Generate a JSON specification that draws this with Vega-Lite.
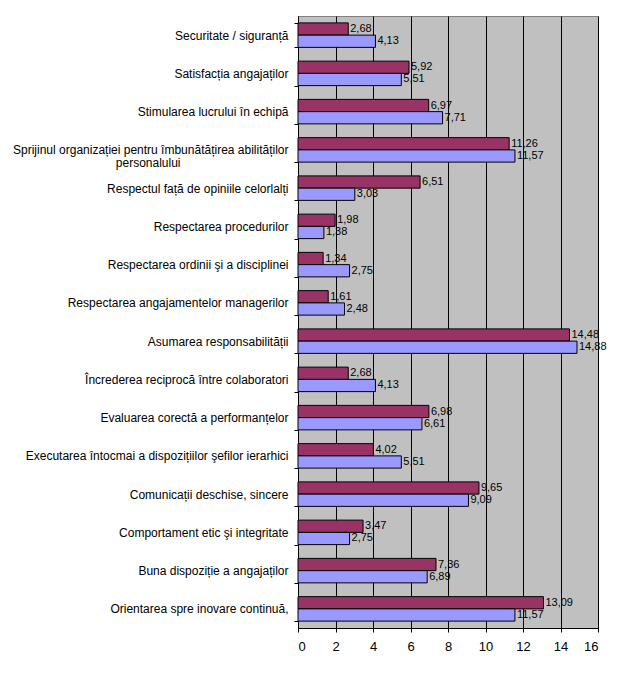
{
  "$schema": "https://vega.github.io/schema/vega-lite/v6.json",
  "width": 300,
  "height": 612,
  "autosize": {"type": "none"},
  "padding": {"left": 298, "top": 16, "right": 26, "bottom": 51},
  "background": "white",
  "config": {
    "locale": {"number": {"decimal": ",", "thousands": ".", "grouping": [3], "currency": ["", ""]}},
    "view": {"fill": "#C0C0C0", "stroke": "#808080", "strokeWidth": 1},
    "font": "Liberation Sans"
  },
  "data": {
    "values": [
      {"categorie": "Securitate / siguranță", "serie": "1", "valoare": 2.68},
      {"categorie": "Securitate / siguranță", "serie": "2", "valoare": 4.13},
      {"categorie": "Satisfacția angajaților", "serie": "1", "valoare": 5.92},
      {"categorie": "Satisfacția angajaților", "serie": "2", "valoare": 5.51},
      {"categorie": "Stimularea lucrului în echipă", "serie": "1", "valoare": 6.97},
      {"categorie": "Stimularea lucrului în echipă", "serie": "2", "valoare": 7.71},
      {"categorie": "Sprijinul organizației pentru îmbunătățirea abilităților personalului", "serie": "1", "valoare": 11.26},
      {"categorie": "Sprijinul organizației pentru îmbunătățirea abilităților personalului", "serie": "2", "valoare": 11.57},
      {"categorie": "Respectul față de opiniile celorlalți", "serie": "1", "valoare": 6.51},
      {"categorie": "Respectul față de opiniile celorlalți", "serie": "2", "valoare": 3.03},
      {"categorie": "Respectarea procedurilor", "serie": "1", "valoare": 1.98},
      {"categorie": "Respectarea procedurilor", "serie": "2", "valoare": 1.38},
      {"categorie": "Respectarea ordinii şi a disciplinei", "serie": "1", "valoare": 1.34},
      {"categorie": "Respectarea ordinii şi a disciplinei", "serie": "2", "valoare": 2.75},
      {"categorie": "Respectarea angajamentelor managerilor", "serie": "1", "valoare": 1.61},
      {"categorie": "Respectarea angajamentelor managerilor", "serie": "2", "valoare": 2.48},
      {"categorie": "Asumarea responsabilității", "serie": "1", "valoare": 14.48},
      {"categorie": "Asumarea responsabilității", "serie": "2", "valoare": 14.88},
      {"categorie": "Încrederea reciprocă între colaboratori", "serie": "1", "valoare": 2.68},
      {"categorie": "Încrederea reciprocă între colaboratori", "serie": "2", "valoare": 4.13},
      {"categorie": "Evaluarea corectă a performanțelor", "serie": "1", "valoare": 6.98},
      {"categorie": "Evaluarea corectă a performanțelor", "serie": "2", "valoare": 6.61},
      {"categorie": "Executarea întocmai a dispozițiilor şefilor ierarhici", "serie": "1", "valoare": 4.02},
      {"categorie": "Executarea întocmai a dispozițiilor şefilor ierarhici", "serie": "2", "valoare": 5.51},
      {"categorie": "Comunicații deschise, sincere", "serie": "1", "valoare": 9.65},
      {"categorie": "Comunicații deschise, sincere", "serie": "2", "valoare": 9.09},
      {"categorie": "Comportament etic şi integritate", "serie": "1", "valoare": 3.47},
      {"categorie": "Comportament etic şi integritate", "serie": "2", "valoare": 2.75},
      {"categorie": "Buna dispoziție a angajaților", "serie": "1", "valoare": 7.36},
      {"categorie": "Buna dispoziție a angajaților", "serie": "2", "valoare": 6.89},
      {"categorie": "Orientarea spre inovare continuă,", "serie": "1", "valoare": 13.09},
      {"categorie": "Orientarea spre inovare continuă,", "serie": "2", "valoare": 11.57}
    ]
  },
  "encoding": {
    "y": {
      "field": "categorie",
      "type": "nominal",
      "sort": null,
      "title": null,
      "scale": {"paddingInner": 0.36, "paddingOuter": 0.18},
      "axis": {
        "domainColor": "black",
        "tickColor": "black",
        "tickBand": "extent",
        "tickSize": 4,
        "labelPadding": 6,
        "labelFontSize": 12,
        "labelColor": "black",
        "labelFont": "Liberation Sans",
        "labelLimit": 300,
        "labelLineHeight": 13,
        "labelExpr": "datum.label == 'Sprijinul organizației pentru îmbunătățirea abilităților personalului' ? ['Sprijinul organizației pentru îmbunătățirea abilităților', 'personalului\u2800\u2800\u2800\u2800\u2800\u2800\u2800\u2800\u2800\u2800\u2800\u2800'] : datum.label"
      }
    },
    "yOffset": {"field": "serie", "type": "nominal", "sort": ["1", "2"]},
    "x": {
      "field": "valoare",
      "type": "quantitative",
      "title": null,
      "scale": {"domain": [0, 16], "nice": false},
      "axis": {
        "values": [0, 2, 4, 6, 8, 10, 12, 14, 16],
        "grid": true,
        "gridColor": "black",
        "gridOpacity": 1,
        "domainColor": "black",
        "tickColor": "black",
        "tickSize": 4,
        "labelPadding": 8,
        "labelFontSize": 13,
        "labelColor": "black",
        "labelFont": "Liberation Sans"
      }
    }
  },
  "layer": [
    {
      "mark": {"type": "bar", "stroke": "black", "strokeWidth": 1},
      "encoding": {
        "color": {
          "field": "serie",
          "type": "nominal",
          "scale": {"domain": ["1", "2"], "range": ["#993366", "#9999FF"]},
          "legend": null
        }
      }
    },
    {
      "mark": {"type": "text", "align": "left", "baseline": "middle", "dx": 2, "fontSize": 11, "color": "black", "font": "Liberation Sans"},
      "encoding": {
        "text": {"field": "valoare", "type": "quantitative", "format": ".2f"}
      }
    }
  ]
}
